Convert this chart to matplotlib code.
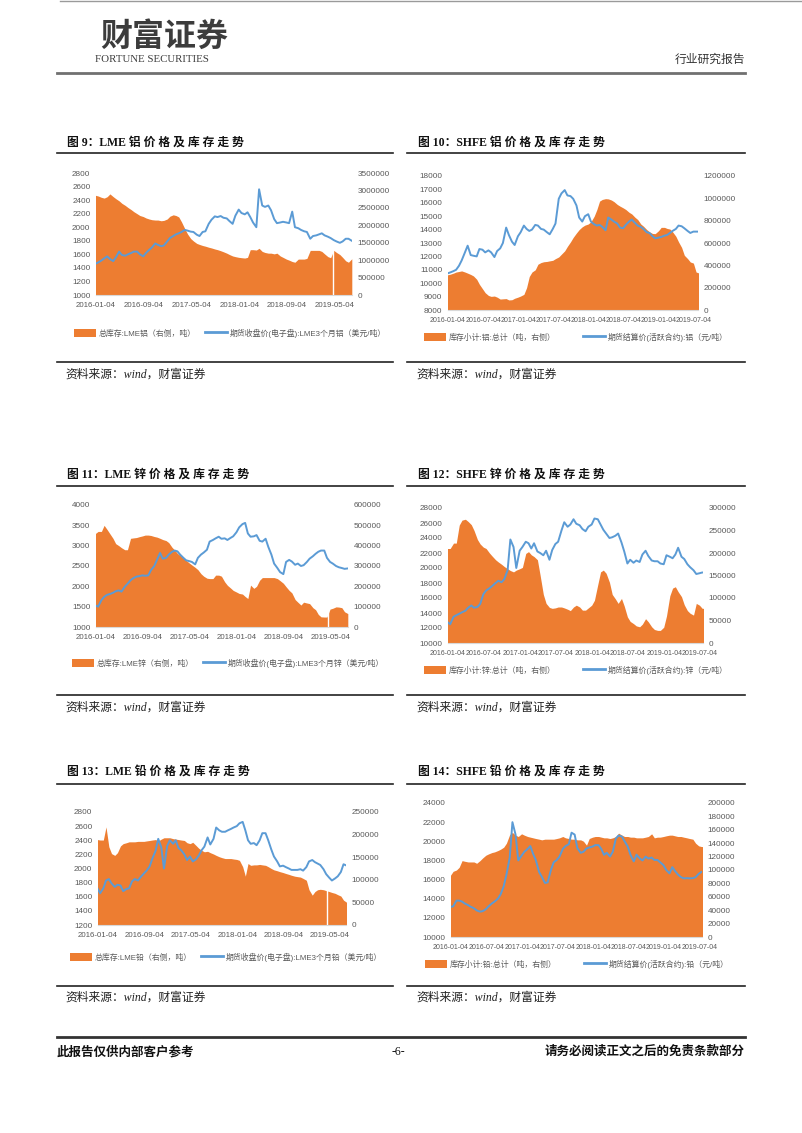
import numpy as np
import pandas as pd
import matplotlib
matplotlib.use('Agg')
import matplotlib.pyplot as plt
from matplotlib.patches import Patch
from matplotlib.lines import Line2D
from matplotlib.ticker import StrMethodFormatter

# ---------------- data ----------------
# semi-monthly points (1st and 15th), Jan 2016 .. Aug 2019
dates = pd.date_range('2016-01-01', '2019-08-01', freq='SMS')

lme_ticks = ['2016-01-04', '2016-09-04', '2017-05-04', '2018-01-04', '2018-09-04', '2019-05-04']
shfe_ticks = ['2016-01-04', '2016-07-04', '2017-01-04', '2017-07-04',
              '2018-01-04', '2018-07-04', '2019-01-04', '2019-07-04']

# stocks in 万吨 (x1e4 tonnes), prices USD/t (LME) or CNY/t (SHFE)
lme_al_stock = [286, 284, 280, 278, 282, 290, 282, 276, 270, 263,
                257, 251, 245, 239, 233, 228, 225, 221, 218, 216,
                215, 215, 213, 214, 218, 226, 230, 228, 224, 210,
                190, 175, 162, 155, 148, 145, 142, 140, 137, 135,
                132, 130, 127, 124, 120, 116, 112, 110, 108, 107,
                106, 108, 130, 130, 129, 134, 125, 122, 120, 120,
                118, 120, 112, 108, 103, 100, 96, 94, 103, 103,
                103, 105, 128, 128, 128, 128, 125, 118, 110, 107,
                128, 122, 116, 108, 98, 94, 104]
lme_al_price = [1460, 1480, 1510, 1540, 1570, 1530, 1500, 1560, 1640, 1590,
                1580, 1600, 1620, 1640, 1640, 1600, 1570, 1620, 1665, 1700,
                1760, 1740, 1720, 1730, 1790, 1840, 1870, 1895, 1910, 1930,
                1960, 1950, 1935, 1930, 1890, 1870, 1930, 1940, 2050, 2110,
                2160, 2150, 2165, 2140, 2130, 2090, 2050, 2170, 2260, 2210,
                2190, 2220, 2150, 2070, 2000, 2560, 2320, 2300, 2320, 2250,
                2120, 2060, 2070, 2080, 2070, 2060, 2230, 2000, 1985, 1960,
                1940, 1930, 1830, 1870, 1880, 1895, 1910, 1880, 1860, 1840,
                1810, 1790, 1770, 1790, 1830, 1830, 1800]
lme_al_gaps = ['2019-04-25']

shfe_al_stock = [31.5, 32, 33, 34, 34.5, 35, 34, 33, 31.8, 30.5,
                 27.5, 23, 19, 15.5, 13, 12.2, 12.5, 11.5, 9.8, 10,
                 10.2, 9, 9.2, 10.5, 11.5, 12.5, 14, 20, 30, 34,
                 36, 41, 42.5, 43.2, 43.5, 44, 44.5, 46, 47.5, 50,
                 53, 57, 61, 65, 69, 72, 74.5, 76, 77, 79,
                 84, 90, 97.5, 99, 99.7, 99.5, 98.5, 97, 94.5, 93,
                 91.5, 90, 87.5, 86, 83, 81, 77, 75, 72, 70,
                 68.5, 68.4, 71, 74, 74, 73, 72.5, 70, 66, 61,
                 56, 49, 46, 43, 42, 34, 33]
shfe_al_price = [10730, 10800, 10900, 11000, 11300, 11700, 12300, 12800, 12100, 12050,
                 12000, 12550, 12500, 12300, 12450, 12300, 11950, 12400, 12600, 13000,
                 14150, 13600, 13100, 12850, 13500, 13800, 14300, 14050, 13900, 14000,
                 14350, 14300, 14050, 14000, 13800, 13650, 14050, 14450, 16300, 16700,
                 16950, 16550, 16500, 16300, 15800, 14900, 14600, 15000, 15150, 14600,
                 14400, 14300, 14350, 14200, 13950, 14900, 14750, 14600, 14450, 14150,
                 14100, 14350, 14600, 14750, 14500, 14300, 14200, 14050, 13800, 13750,
                 13500, 13350, 13400, 13450, 13550, 13600, 13750, 13900, 14050, 14300,
                 14250, 14100, 13900, 13750, 13850, 13850, 13850]

lme_zn_stock = [46, 47, 47, 50, 48, 46, 43.6, 41, 40, 39,
                38, 38, 43.6, 43.8, 44, 44.4, 44.8, 45.2, 45.2, 45,
                44.5, 44.2, 43.6, 43, 42.5, 41.5, 39.2, 37.8, 36.2, 35.2,
                34.2, 32.8, 31.5, 30.5, 29.3, 28.2, 26.2, 25, 24, 23.8,
                23.8, 25.5, 25.5, 25, 22.2, 20.5, 19.2, 18, 17.2, 16.5,
                16.2, 15, 14, 20.6, 19, 20, 23, 24.3, 24.3, 24.3,
                24.3, 24.3, 23.8, 22.8, 21.5, 19.8, 18, 16.8, 13.5, 12.2,
                10.8, 12.2, 11.8, 11.5, 9.5, 8.5, 6.2, 5, 4.9, 4.9,
                8.8, 9.2, 9.9, 9.8, 9.5, 7.5, 6.6]
lme_zn_price = [1530, 1500, 1660, 1740, 1790, 1810, 1840, 1880, 1900, 1870,
                1990, 2060, 2150, 2200, 2240, 2250, 2270, 2260, 2270, 2400,
                2500, 2650, 2820, 2680, 2700, 2780, 2850, 2880, 2860, 2780,
                2700, 2640, 2620, 2600, 2540, 2700, 2780, 2830, 2900, 3100,
                3140, 3180, 3220, 3170, 3180, 3140, 3190, 3230, 3330, 3450,
                3530, 3560, 3300, 3220, 3230, 3260, 3120, 3100, 3170, 2970,
                2780, 2560, 2450, 2350, 2300, 2600, 2650, 2610, 2530, 2560,
                2500, 2520, 2600, 2680, 2740, 2800, 2850, 2880, 2880, 2700,
                2600, 2560, 2500, 2470, 2450, 2430, 2440]
lme_zn_gaps = ['2019-04-22']

shfe_zn_stock = [21, 21, 22.2, 22.2, 26.2, 27.3, 27.5, 27, 26.3, 25,
                 23, 22, 21.3, 21, 20, 19.3, 18.5, 18, 17.5, 17,
                 16.5, 16.1, 15.8, 16.2, 16.5, 16.8, 19.9, 20.3, 19.6, 19.2,
                 18.5, 15, 10.8, 8.8, 7.9, 7.7, 7.8, 8, 8, 7.8,
                 7.5, 7.2, 8, 8.4, 8, 7.3, 7.3, 7.8, 8.4, 9.5,
                 13, 15.8, 16.2, 15.5, 13.5, 10.8, 9.8, 8.8, 9.9, 8.2,
                 5.8, 4.8, 4.3, 3.8, 3.6, 4.2, 5.4, 4.7, 3.6, 3,
                 2.8, 2.8, 3.5, 6, 10.5, 12.2, 12.5, 11.4, 10.3, 8.5,
                 7.2, 6.6, 6.2, 8.8, 8.4, 7.7, 7.7]
shfe_zn_price = [12800, 12500, 13500, 13700, 13900, 14100, 14300, 14700, 15000, 14700,
                 14800, 15200, 16500, 17000, 17300, 17600, 18000, 18300, 18100, 18500,
                 19700, 23800, 22800, 20000, 22300, 22800, 23500, 23300, 22600, 23300,
                 22200, 22000, 21700, 22300, 21100, 22400, 23200, 23500, 25000, 26100,
                 25500, 25800, 26500, 25900, 25700, 25200, 24900, 25500, 25800, 26600,
                 26500, 25800, 25100, 24600, 24000, 24100, 24300, 24600, 23400, 22200,
                 20600, 21100, 20700, 21000, 20800, 21800, 22300, 21600, 21000, 20900,
                 20900, 20600, 20500, 21700, 21500, 21300, 21800, 22700, 21500, 21200,
                 20500, 20100, 19700, 19200, 19300, 19400, 19400]

lme_pb_stock = [18.9, 18.8, 18.8, 21.7, 17.3, 15.8, 15.4, 16, 17.5, 18,
                18.2, 18.4, 18.4, 18.4, 18.5, 18.5, 18.5, 18.6, 18.7, 18.8,
                18.9, 18.6, 19, 19.3, 19.3, 19.3, 19.1, 19, 18.9, 18.8,
                18.7, 18.2, 18, 18.3, 17.6, 17, 16.5, 16.2, 16.3, 16,
                15.7, 15.4, 15.1, 14.9, 14.7, 14.7, 14.7, 14.6, 14.5, 14.3,
                12.9, 10.8, 13.6, 13.2, 13.3, 13.3, 13.4, 13.3, 13.2, 12.9,
                12.5, 12.2, 12, 11.8, 11.6, 11.4, 11.2, 11, 10.8, 10.7,
                10.6, 10.3, 9.9, 7.8, 6.6, 7.4, 7.8, 7.9, 7.8, 7.6,
                7.4, 7.2, 7, 6.7, 6.4, 5.5, 5]
lme_pb_price = [1720, 1650, 1720, 1830, 1850, 1790, 1740, 1770, 1760, 1680,
                1710, 1720, 1820, 1850, 1830, 1880, 1930, 1970, 2030, 2140,
                2250, 2420, 2300, 2000, 2320, 2400, 2350, 2400, 2290, 2260,
                2200, 2120, 2170, 2100, 2130, 2180, 2260, 2310, 2440, 2340,
                2420, 2580, 2540, 2520, 2520, 2540, 2560, 2580, 2600, 2640,
                2660, 2540, 2400, 2350, 2360, 2330, 2400, 2500, 2500, 2400,
                2270, 2170, 2100, 2030, 2040, 2020, 2000, 1980, 1980, 1980,
                1990, 1970, 2020, 2100, 2120, 2090, 2070, 2050, 1990, 1920,
                1870, 1830, 1860, 1890, 1950, 2060, 2040]
lme_pb_gaps = ['2019-04-18']

shfe_pb_stock = [9.2, 9.8, 10, 10.4, 11.4, 11.3, 11.2, 11.2, 11.2, 11,
                 11.4, 11.8, 12.2, 12.4, 12.6, 12.7, 12.9, 13.1, 13.4, 14,
                 15.3, 15.6, 15.2, 15, 15.4, 15.2, 15, 14.9, 14.8, 14.7,
                 14.6, 14.5, 14.6, 14.6, 14.6, 14.6, 14.7, 14.8, 15, 14.8,
                 14.7, 14.6, 14.6, 14.5, 14.5, 14.3, 13.7, 14.7, 14.9, 15,
                 15, 14.9, 14.8, 14.8, 14.7, 14.8, 15, 15.5, 15.2, 15,
                 15, 14.9, 14.9, 14.8, 14.8, 14.8, 14.9, 15, 15.4, 14.8,
                 14.9, 14.9, 15, 15.1, 15.2, 15.2, 15.1, 15, 15, 14.9,
                 14.8, 14.7, 14.6, 14, 13.6, 13.5, 13.5]
shfe_pb_price = [13150, 13200, 13800, 13800, 13700, 13500, 13330, 13150, 13000, 12780,
                 12650, 12700, 12900, 13200, 13500, 13700, 14000, 14450, 15300, 16500,
                 18300, 22000, 20700, 18000, 18500, 18900, 19200, 19500, 18700, 18050,
                 16800, 16300, 15650, 15700, 17000, 17800, 18050, 18400, 19200, 19500,
                 19700, 20900, 20700, 19280, 18800, 18900, 19250, 19350, 19450, 19600,
                 19600, 19200, 18580, 18800, 18400, 18900, 20300, 20600, 20500, 20000,
                 19450, 18600, 17900, 18600, 18200, 18000, 18400, 18200, 18300, 18050,
                 18050, 17800, 17500, 17000, 16650, 17300, 16900, 16550, 16250, 16130,
                 16150, 16130, 16150, 16250, 16600, 16800, 16800]

titles = ['图 9：LME 铝 价 格 及 库 存 走 势', '图 10：SHFE 铝 价 格 及 库 存 走 势',
          '图 11：LME 锌 价 格 及 库 存 走 势', '图 12：SHFE 锌 价 格 及 库 存 走 势',
          '图 13：LME 铅 价 格 及 库 存 走 势', '图 14：SHFE 铅 价 格 及 库 存 走 势']
legend_labels = [
    ['总库存:LME铝（右侧，吨）', '期货收盘价(电子盘):LME3个月铝（美元/吨）'],
    ['库存小计:铝:总计（吨，右侧）', '期货结算价(活跃合约):铝（元/吨）'],
    ['总库存:LME锌（右侧，吨）', '期货收盘价(电子盘):LME3个月锌（美元/吨）'],
    ['库存小计:锌:总计（吨，右侧）', '期货结算价(活跃合约):锌（元/吨）'],
    ['总库存:LME铅（右侧，吨）', '期货收盘价(电子盘):LME3个月铅（美元/吨）'],
    ['库存小计:铅:总计（吨，右侧）', '期货结算价(活跃合约):铅（元/吨）'],
]
source_text = '资料来源：wind，财富证券'

# ---------------- page ----------------
ORANGE = '#ED7D31'
BLUE = '#5B9BD5'
GREY = '#595959'
W, H = 802, 1133
plt.rcParams['font.family'] = ['Liberation Sans', 'Noto Sans CJK SC']
SERIF_CJK = ['Liberation Serif', 'Noto Sans CJK SC']

fig = plt.figure(figsize=(8.02, 11.33), dpi=100)


def fy(y):
    return 1 - y / H


def hline(y, x0, x1, lw, color):
    fig.add_artist(Line2D([x0 / W, x1 / W], [fy(y), fy(y)], transform=fig.transFigure,
                          lw=lw, color=color))


def chart(box, stock, price, gaps, ticks, xend, ylim, ystep, y2lim, y2step,
          labels, leg_xy, colsp, xfs):
    x0, y0, x1, y1 = box
    ax = fig.add_axes([x0 / W, fy(y1), (x1 - x0) / W, (y1 - y0) / H])
    ax2 = ax.twinx()
    ax2.fill_between(dates, np.array(stock) * 1e4, color=ORANGE, lw=0)
    for g in gaps:
        ax2.axvline(pd.Timestamp(g), color='white', lw=1.0)
    ax.plot(dates, price, color=BLUE, lw=1.4)
    ax.set_zorder(ax2.get_zorder() + 1)
    ax.patch.set_visible(False)

    ax.set_xlim(pd.Timestamp('2016-01-04'), pd.Timestamp(xend))
    ax.set_xticks(pd.to_datetime(ticks))
    ax.set_xticklabels(ticks)
    ax.set_ylim(*ylim)
    ax.set_yticks(np.arange(ylim[0], ylim[1] + 1, ystep))
    ax2.set_ylim(*y2lim)
    ax2.set_yticks(np.arange(y2lim[0], y2lim[1] + 1, y2step))
    for a in (ax, ax2):
        a.yaxis.set_major_formatter(StrMethodFormatter('{x:.0f}'))
        a.tick_params(length=0, labelsize=5.9, colors=GREY, pad=4)
        for s in a.spines.values():
            s.set_visible(False)
    ax.tick_params(axis='x', labelsize=xfs, pad=5)
    ax.spines['bottom'].set_visible(True)
    ax.spines['bottom'].set_color('#D9D9D9')
    ax.spines['bottom'].set_linewidth(0.8)

    handles = [Patch(facecolor=ORANGE, edgecolor='none'),
               Line2D([], [], color=BLUE, lw=2)]
    fig.legend(handles, labels, loc='center', ncol=2, frameon=False,
               bbox_to_anchor=(leg_xy[0] / W, fy(leg_xy[1])), fontsize=5.7,
               labelcolor=GREY, handlelength=2.8, handleheight=1.1,
               handletextpad=0.3, columnspacing=colsp)


# header
hline(1, 60, 802, 1.0, '#9a9a9a')
fig.text(100 / W, fy(37), '财富证券', fontsize=23, color='#3c3c3c', fontweight='bold',
         family='Noto Sans CJK SC', va='center', ha='left')
fig.text(95 / W, fy(59), 'FORTUNE SECURITIES', fontsize=7.8, color='#3c3c3c',
         family='Liberation Serif', va='center', ha='left')
fig.text(745 / W, fy(59), '行业研究报告', fontsize=8.5, color='#333333',
         family='Noto Sans CJK SC', va='center', ha='right')
hline(73, 57, 745, 2.0, '#707070')

# section frames: titles, rules, source lines
cols = [(57, 393, 67), (407, 745, 418)]
rows = [(143, 153, 362, 375), (475, 486, 695, 708), (772, 784, 986, 998)]
k = 0
for ty, ry, sy, st in rows:
    for cx0, cx1, tx in cols:
        fig.text(tx / W, fy(ty), titles[k], fontsize=8.5, fontweight='bold',
                 family=SERIF_CJK, color='#111111', va='center', ha='left')
        hline(ry, cx0, cx1, 1.2, '#222222')
        hline(sy, cx0, cx1, 1.2, '#222222')
        fig.text((tx - 2) / W, fy(st), source_text, fontsize=8.5, style='italic',
                 family=SERIF_CJK, color='#222222', va='center', ha='left')
        k += 1

# charts
chart((96, 173, 352, 295), lme_al_stock, lme_al_price, lme_al_gaps, lme_ticks,
      '2019-08-02', (1000, 2800), 200, (0, 3500000), 500000,
      legend_labels[0], (230, 333), 1.2, 5.7)
chart((448, 176, 698, 310), shfe_al_stock, shfe_al_price, [], shfe_ticks,
      '2019-07-25', (8000, 18000), 1000, (0, 1200000), 200000,
      legend_labels[1], (576, 337), 3.5, 5.0)
chart((96, 505, 348, 627), lme_zn_stock, lme_zn_price, lme_zn_gaps, lme_ticks,
      '2019-08-02', (1000, 4000), 500, (0, 600000), 100000,
      legend_labels[2], (228, 663), 1.2, 5.7)
chart((448, 508, 703, 643), shfe_zn_stock, shfe_zn_price, [], shfe_ticks,
      '2019-07-19', (10000, 28000), 2000, (0, 300000), 50000,
      legend_labels[3], (576, 670), 3.5, 5.0)
chart((98, 812, 346, 925), lme_pb_stock, lme_pb_price, lme_pb_gaps, lme_ticks,
      '2019-07-28', (1200, 2800), 200, (0, 250000), 50000,
      legend_labels[4], (226, 957), 1.2, 5.7)
chart((451, 803, 702, 937), shfe_pb_stock, shfe_pb_price, [], shfe_ticks,
      '2019-07-18', (10000, 24000), 2000, (0, 200000), 20000,
      legend_labels[5], (577, 964), 3.5, 5.0)

# footer
hline(1037, 57, 745, 2.0, '#333333')
fig.text(57 / W, fy(1052), '此报告仅供内部客户参考', fontsize=9, fontweight='bold',
         family=SERIF_CJK, color='#111111', va='center', ha='left')
fig.text(398 / W, fy(1052), '-6-', fontsize=8.5, family='Liberation Serif',
         color='#111111', va='center', ha='center')
fig.text(745 / W, fy(1052), '请务必阅读正文之后的免责条款部分', fontsize=9, fontweight='bold',
         family=SERIF_CJK, color='#111111', va='center', ha='right')

fig.savefig('out.png', dpi=100)
